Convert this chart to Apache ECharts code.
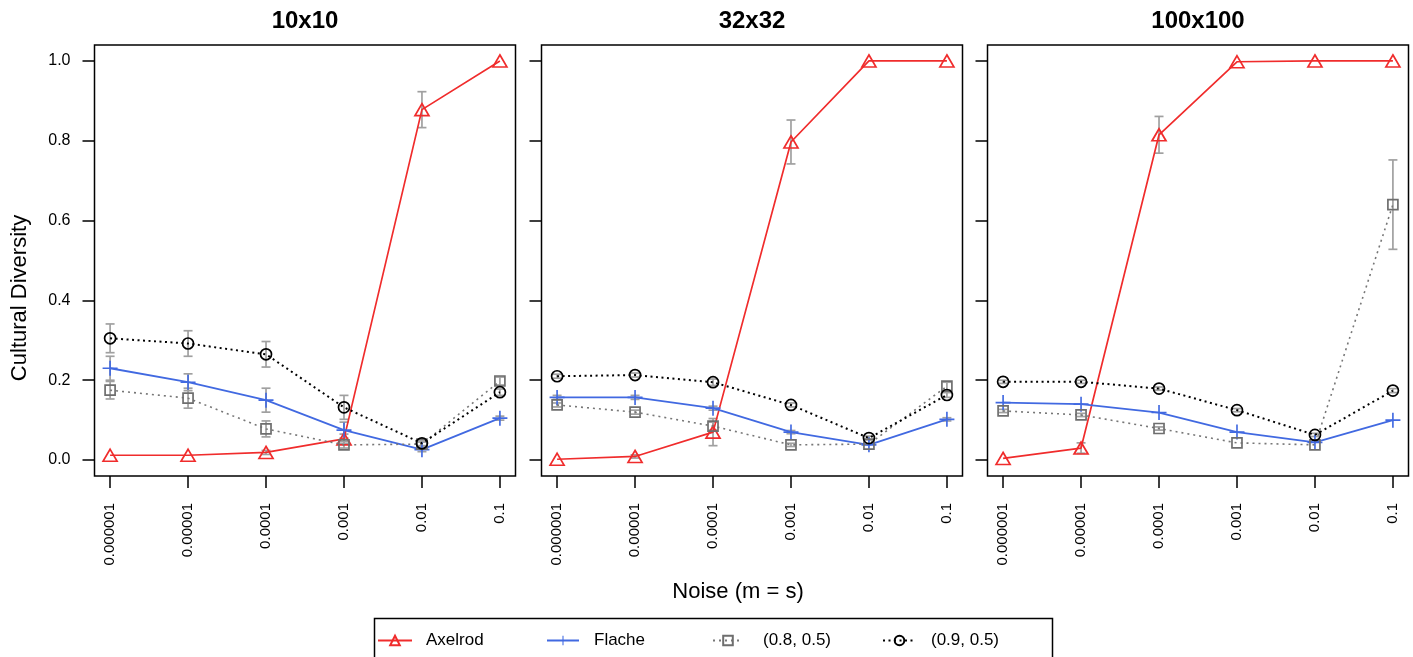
<!DOCTYPE html>
<html><head><meta charset="utf-8">
<script src="https://cdn.jsdelivr.net/npm/echarts@6/dist/echarts.min.js"></script>
<style>html,body{margin:0;padding:0;background:#fff}#c{width:1413px;height:657px}</style>
</head><body><div id="c"></div>
<script>
// ---------- data ----------
const noiseLabels = ['0.000001', '0.00001', '0.0001', '0.001', '0.01', '0.1'];
const panelNames = ['10x10', '32x32', '100x100'];
const seriesNames = ['Axelrod', 'Flache', '(0.8, 0.5)', '(0.9, 0.5)'];
const yTickValues = [0, 0.2, 0.4, 0.6, 0.8, 1.0];

// values per panel (10x10, 32x32, 100x100)
const axelrodValues = [
  [0.012, 0.012, 0.019, 0.053, 0.878, 1.0],
  [0.002, 0.009, 0.070, 0.797, 1.0, 1.0],
  [0.004, 0.030, 0.815, 0.998, 1.0, 1.0]
];
const flacheValues = [
  [0.230, 0.195, 0.150, 0.075, 0.026, 0.105],
  [0.157, 0.157, 0.130, 0.070, 0.038, 0.102],
  [0.144, 0.140, 0.119, 0.070, 0.044, 0.100]
];
const p08Values = [
  [0.175, 0.155, 0.078, 0.038, 0.040, 0.198],
  [0.138, 0.120, 0.085, 0.038, 0.040, 0.185],
  [0.123, 0.113, 0.079, 0.043, 0.038, 0.640]
];
const p09Values = [
  [0.305, 0.292, 0.265, 0.132, 0.042, 0.170],
  [0.210, 0.213, 0.195, 0.138, 0.055, 0.163],
  [0.196, 0.196, 0.179, 0.125, 0.063, 0.174]
];
// error-bar half widths
const axelrodErr = [
  [0.003, 0.003, 0.005, 0.012, 0.045, 0],
  [0.002, 0.004, 0.034, 0.055, 0, 0],
  [0.003, 0.013, 0.046, 0.003, 0, 0]
];
const flacheErr = [
  [0.030, 0.021, 0.030, 0.020, 0.005, 0.005],
  [0.005, 0.005, 0.005, 0.004, 0.003, 0.004],
  [0.003, 0.003, 0.003, 0.003, 0.002, 0.003]
];
const p08Err = [
  [0.022, 0.025, 0.020, 0.008, 0.005, 0.010],
  [0.005, 0.005, 0.010, 0.004, 0.003, 0.010],
  [0.004, 0.004, 0.004, 0.003, 0.003, 0.112]
];
const p09Err = [
  [0.036, 0.032, 0.032, 0.030, 0.006, 0.008],
  [0.005, 0.005, 0.008, 0.005, 0.005, 0.006],
  [0.004, 0.004, 0.004, 0.004, 0.004, 0.005]
];

// ---------- build ----------
const FONT = "'Liberation Sans', Arial, sans-serif";
const RED = '#F02C2C', BLUE = '#4169E1', GRAY = '#6e6e6e', BLACK = '#000';
const PLUS = 'path://M8.9,0H11.1V8.9H20V11.1H11.1V20H8.9V11.1H0V8.9H8.9Z';
const allValues = [axelrodValues, flacheValues, p08Values, p09Values];
const allErr = [axelrodErr, flacheErr, p08Err, p09Err];
const gridLefts = [94.5, 541.5, 987.5];

const styles = [
  { symbol: 'triangle', symbolSize: [14, 12],
    itemStyle: { color: 'rgba(255,255,255,0)', borderColor: RED, borderWidth: 1.7 },
    lineStyle: { color: RED, width: 1.7, type: 'solid' } },
  { symbol: PLUS, symbolSize: 15,
    itemStyle: { color: BLUE, borderWidth: 0 },
    lineStyle: { color: BLUE, width: 1.8, type: 'solid' } },
  { symbol: 'rect', symbolSize: 10,
    itemStyle: { color: 'rgba(255,255,255,0)', borderColor: GRAY, borderWidth: 1.7 },
    lineStyle: { color: '#777', width: 1.6, type: [2, 4] } },
  { symbol: 'circle', symbolSize: 11,
    itemStyle: { color: 'rgba(255,255,255,0)', borderColor: BLACK, borderWidth: 1.7 },
    lineStyle: { color: BLACK, width: 2, type: [2, 3.5] } }
];

const grids = [], xAxes = [], yAxes = [], series = [];
gridLefts.forEach((l, p) => {
  grids.push({ left: l, top: 45, width: 421, height: 431, show: true,
    borderColor: '#000', borderWidth: 1.5, backgroundColor: 'transparent' });
  xAxes.push({ type: 'value', gridIndex: p, min: 0.8, max: 6.2, position: 'bottom',
    axisLine: { show: false, onZero: false }, splitLine: { show: false },
    axisTick: { show: true, customValues: [1, 2, 3, 4, 5, 6], length: 12, lineStyle: { color: '#000', width: 1.5 } },
    axisLabel: { show: true, customValues: [1, 2, 3, 4, 5, 6], rotate: 90, margin: 27,
      fontSize: 15, color: '#000', fontFamily: FONT,
      formatter: v => noiseLabels[Math.round(v) - 1] } });
  yAxes.push({ type: 'value', gridIndex: p, min: -0.04, max: 1.04, position: 'left',
    axisLine: { show: false, onZero: false }, splitLine: { show: false },
    axisTick: { show: true, customValues: yTickValues, length: 12, lineStyle: { color: '#000', width: 1.5 } },
    axisLabel: { show: p === 0, customValues: yTickValues, margin: 24,
      fontSize: 16, color: '#000', fontFamily: FONT,
      formatter: v => v.toFixed(1) } });

  seriesNames.forEach((name, g) => {
    const vals = allValues[g][p], errs = allErr[g][p];
    const errData = [];
    vals.forEach((v, k) => { if (errs[k] > 0.003) errData.push([k + 1, v - errs[k], v + errs[k]]); });
    series.push({
      type: 'custom', name: 'err-' + g + '-' + p, xAxisIndex: p, yAxisIndex: p, z: 1,
      silent: true, data: errData, encode: { x: 0, y: [1, 2] },
      renderItem: (params, api) => {
        const x = api.value(0);
        const a = api.coord([x, api.value(1)]), b = api.coord([x, api.value(2)]);
        const w = 4.5, st = { stroke: '#a0a0a0', lineWidth: 1.7 };
        return { type: 'group', children: [
          { type: 'line', shape: { x1: a[0], y1: a[1], x2: b[0], y2: b[1] }, style: st },
          { type: 'line', shape: { x1: a[0] - w, y1: a[1], x2: a[0] + w, y2: a[1] }, style: st },
          { type: 'line', shape: { x1: b[0] - w, y1: b[1], x2: b[0] + w, y2: b[1] }, style: st }
        ] };
      }
    });
    series.push(Object.assign({
      type: 'line', name: name, xAxisIndex: p, yAxisIndex: p, z: 3 + g,
      showAllSymbol: true, animation: false,
      data: vals.map((v, k) => [k + 1, v])
    }, JSON.parse(JSON.stringify(styles[g])), { symbol: styles[g].symbol }));
  });
});

const legendPos = [
  { left: 377, w: 34, pad: 9 },
  { left: 546, w: 32, pad: 10 },
  { left: 712, w: 30, pad: 15 },
  { left: 882, w: 33, pad: 10 }
];
const legends = seriesNames.map((n, i) => ({
  data: [n], left: legendPos[i].left, top: 632, padding: 0, orient: 'horizontal',
  itemWidth: legendPos[i].w, itemHeight: 12, selectedMode: false,
  textStyle: { fontSize: 17, color: '#000', fontFamily: FONT, padding: [0, 0, 0, legendPos[i].pad] }
}));

const graphics = [
  { type: 'rect', shape: { x: 374.5, y: 618.5, width: 678, height: 60 },
    style: { fill: 'none', stroke: '#000', lineWidth: 1.5 }, silent: true },
  { type: 'text', x: 738, y: 592, style: { text: 'Noise (m = s)', font: '22px ' + FONT,
    align: 'center', verticalAlign: 'middle', fill: '#000' } },
  { type: 'text', x: 20, y: 298, rotation: Math.PI / 2, style: { text: 'Cultural Diversity',
    font: '22px ' + FONT, align: 'center', verticalAlign: 'middle', fill: '#000' } }
];
panelNames.forEach((n, p) => {
  graphics.push({ type: 'text', x: gridLefts[p] + 210.5, y: 21,
    style: { text: n, font: 'bold 24px ' + FONT, align: 'center', verticalAlign: 'middle', fill: '#000' } });
});

const chart = echarts.init(document.getElementById('c'), null, { renderer: 'canvas' });
chart.setOption({
  animation: false,
  backgroundColor: '#fff',
  grid: grids, xAxis: xAxes, yAxis: yAxes,
  legend: legends,
  series: series,
  graphic: graphics
});
</script>
</body></html>
